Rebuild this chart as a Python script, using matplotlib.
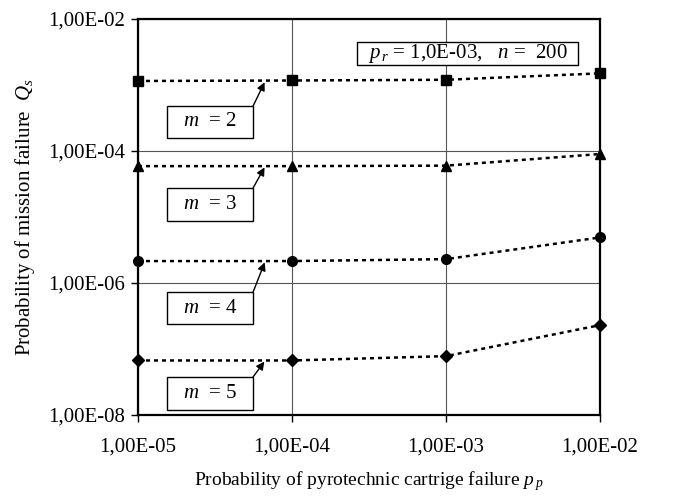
import matplotlib
matplotlib.use("Agg")
import matplotlib.pyplot as plt
import matplotlib.patches as mpatches
from matplotlib.ticker import FixedLocator, FixedFormatter, NullLocator

plt.rcParams['font.family'] = ['Liberation Serif', 'DejaVu Serif']
plt.rcParams['mathtext.fontset'] = 'custom'
plt.rcParams['mathtext.rm'] = 'Liberation Serif'
plt.rcParams['mathtext.it'] = 'Liberation Serif:italic'

# Data
pp = [1e-5, 1e-4, 1e-3, 1e-2]
q_m2 = [1.15e-3, 1.17e-3, 1.2e-3, 1.5e-3]
q_m3 = [5.9e-5, 5.9e-5, 6.0e-5, 9.0e-5]
q_m4 = [2.15e-6, 2.15e-6, 2.3e-6, 4.9e-6]
q_m5 = [6.7e-8, 6.7e-8, 7.8e-8, 2.3e-7]
series = [("2", q_m2, 's'), ("3", q_m3, '^'), ("4", q_m4, 'o'), ("5", q_m5, 'D')]
xticks = [1e-5, 1e-4, 1e-3, 1e-2]
xtick_labels = ["1,00E-05", "1,00E-04", "1,00E-03", "1,00E-02"]
yticks = [1e-8, 1e-6, 1e-4, 1e-2]
ytick_labels = ["1,00E-08", "1,00E-06", "1,00E-04", "1,00E-02"]

fig = plt.figure(figsize=(6.85, 4.97), dpi=100)
ax = fig.add_axes([138/685, 1-415/497, (600-138)/685, (415-19)/497])
ax.set_xscale('log')
ax.set_yscale('log')
ax.set_xlim(1e-5, 1e-2)
ax.set_ylim(1e-8, 1e-2)

ax.xaxis.set_major_locator(FixedLocator(xticks))
ax.xaxis.set_major_formatter(FixedFormatter(xtick_labels))
ax.yaxis.set_major_locator(FixedLocator(yticks))
ax.yaxis.set_major_formatter(FixedFormatter(ytick_labels))
ax.xaxis.set_minor_locator(NullLocator())
ax.yaxis.set_minor_locator(NullLocator())
ax.tick_params(axis='both', labelsize=15, direction='out', length=5, width=1)
ax.tick_params(axis='x', pad=11)
ax.tick_params(axis='y', pad=4)
ax.grid(True, color='#555555', linewidth=0.8)
ax.set_axisbelow(True)
for s in ax.spines.values():
    s.set_linewidth(1.6)
    s.set_color('black')

# label boxes (axes fraction): bottom, top
box_y = [(0.70, 0.78), (0.49, 0.573), (0.23, 0.31), (0.013, 0.096)]
bx0, bx1 = 0.063, 0.249
for (m, vals, mk), (b0, b1) in zip(series, box_y):
    ms = 7 if mk != 'D' else 6
    ax.plot(pp, vals, color='black', linestyle=(0, (1.6, 1.6)), linewidth=1.8,
            marker=mk, markersize=ms, markerfacecolor='black', markeredgecolor='black',
            clip_on=False, zorder=3)
    ax.annotate("", xy=(6.7e-5, vals[0]), xycoords='data',
                xytext=(bx1, b1), textcoords='axes fraction',
                arrowprops=dict(arrowstyle='-|>', color='black', lw=1.0,
                                mutation_scale=12, shrinkA=0, shrinkB=1))
    ax.add_patch(mpatches.Rectangle((bx0, b0), bx1 - bx0, b1 - b0, transform=ax.transAxes,
                                    facecolor='white', edgecolor='black', linewidth=1.0,
                                    zorder=3.5))
    ax.text((bx0 + bx1) / 2, (b0 + b1) / 2, "$m$  = " + m, transform=ax.transAxes,
            fontsize=15, ha='center', va='center', zorder=5)

ax.add_patch(mpatches.Rectangle((0.474, 0.884), 0.478, 0.058, transform=ax.transAxes,
                                facecolor='white', edgecolor='black', linewidth=1.0, zorder=3.5))
ax.text(0.713, 0.913, "$p_{\\,r}$ = 1,0E-03,   $n$ =  200", transform=ax.transAxes,
        fontsize=15, ha='center', va='center', zorder=5)

ax.set_xlabel("Probability of pyrotechnic cartrige failure $p_{\\,p}$", fontsize=14, labelpad=9)
ax.set_ylabel("Probability of mission failure  $Q_s$", fontsize=15, labelpad=8)

fig.savefig("out.png", dpi=100)
